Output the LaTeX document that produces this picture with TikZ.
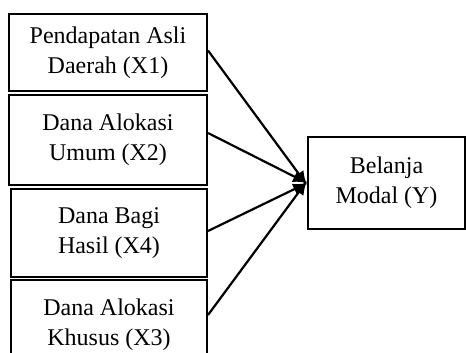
\documentclass[tikz,border=0pt]{standalone}
\usepackage{fontspec}
\setmainfont{Liberation Serif}
\usetikzlibrary{arrows.meta}
\tikzset{
  varbox/.style={draw, line width=1pt, inner sep=0pt, align=center,
    font=\fontsize{12}{15}\selectfont},
  link/.style={line width=1.1pt, -{Latex[length=7pt,width=6pt]}}
}
\begin{document}
\begin{tikzpicture}[x=0.5pt, y=-0.5pt]
    \useasboundingbox (0,0) rectangle (466,353);
    \clip (0,0) rectangle (466,353);
    \node[varbox, minimum width=99pt, minimum height=38.5pt] (pad) at (108,52.5)
      {Pendapatan Asli\\Daerah (X1)};
    \node[varbox, minimum width=99pt, minimum height=45pt] (dau) at (108,140)
      {Dana Alokasi\\Umum (X2)};
    \node[varbox, minimum width=98pt, minimum height=44pt] (dbh) at (109,233)
      {Dana Bagi\\Hasil (X4)};
    \node[varbox, minimum width=98pt, minimum height=45pt] (dak) at (109,325)
      {Dana Alokasi\\Khusus (X3)};
    \node[varbox, minimum width=78.5pt, minimum height=46pt] (bm) at (386.5,183)
      {Belanja\\Modal (Y)};
    \draw[link] ([yshift=1pt]pad.east) -- ([yshift=-1pt]bm.west);
    \draw[link] ([yshift=3.5pt]dau.east) -- (bm.west);
    \draw[link] ([yshift=1pt]dbh.east) -- (bm.west);
    \draw[link] ([yshift=5pt]dak.east) -- ([yshift=1pt]bm.west);
\end{tikzpicture}
\end{document}
